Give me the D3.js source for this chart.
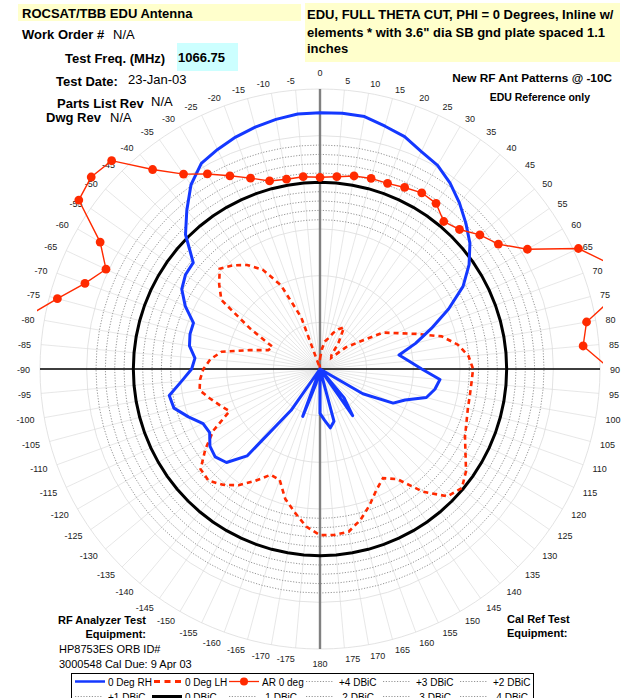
<!DOCTYPE html>
<html><head><meta charset="utf-8">
<script src="https://cdn.jsdelivr.net/npm/d3@7"></script>
<style>
html,body{margin:0;padding:0;background:#fff;}
svg{display:block;font-family:Arial,"Liberation Sans",sans-serif;}
</style></head><body>
<svg id="chart" width="639" height="698"></svg>
<script>
// Theta cut angles (degrees), clockwise from the top of the plot
const angleLabels = [
  "0","5","10","15","20","25","30","35","40","45","50","55","60","65","70","75","80","85","90",
  "95","100","105","110","115","120","125","130","135","140","145","150","155","160","165","170","175","180",
  "-175","-170","-165","-160","-155","-150","-145","-140","-135","-130","-125","-120","-115","-110","-105","-100","-95",
  "-90","-85","-80","-75","-70","-65","-60","-55","-50","-45","-40","-35","-30","-25","-20","-15","-10","-5"
];

// 0 Deg RH gain (dBiC)
const rhGain = [
  7.46, 7.5, 7.46, 6.93, 6.5, 5.7, 5.2, 4.3, 3.24, 2.1, 0.97, -0.5, -2.3, -4.8, -7.3, -9.4, -11.4, -10.4, -9.1,
  -7.1, -7.5, -8.2, -10.3, -11.35, -14.7, -20, -20, -20, -16, -13.9, -20, -20, -20, -14.2, -13.6, -14.5, -15.25,
  -20, -20, -18.4, -14.6, -20, -20, -14.6, -7.84, -5.83, -5.34, -5.6, -6.35, -6.18, -5.0, -3.8, -3.6, -5.12,
  -6.25, -6.55, -5.8, -5.58, -5.57, -4.07, -2.9, -2.4, -2.27, 0.38, 2.2, 4.1, 5.43, 5.96, 6.44, 6.83, 7.16, 7.42
];

// 0 Deg LH gain (dBiC)
const lhGain = [
  -18.9, -17.9, -17.0, -16.6, -15.9, -15.3, -14.85, -16.5, -18.1, -18.3, -16.4, -15.0, -12.2, -10.9, -9.0, -6.5, -5.0, -4.03, -3.6,
  -3.7, -3.7, -3.6, -3.3, -2.86, -2.0, -0.9, -0.16, -0.7, -2.85, -5.6, -6.5, -5.7, -4.47, -3.26, -2.3, -2.16, -2.2,
  -3.05, -4.4, -5.6, -7.36, -7.5, -6.16, -4.8, -3.8, -3.1, -3.3, -5.0, -6.8, -9.3, -8.6, -7.8, -6.9, -7.1,
  -7.5, -8.2, -9.3, -12.2, -14.1, -14.4, -11.4, -7.1, -5.9, -4.8, -5.5, -6.4, -7.7, -10.1, -14.1, -19.7, -20, -19.5
];

// Axial ratio, 0 deg (dB)
const axialRatio = [
  0.54, 0.68, 1.0, 1.15, 1.17, 1.46, 1.8, 1.67, 0.63, 1.14, 2.36, 3.33, 5.66, 10.55, 13.0, 13.8, 9.0, 8.3, 11.1,
  21.4, 26.8, 29.5, 31.2, 33.0, 34.1, 32.6, 30.8, 29.9, 31.5, 33.8, 35.2, 34.0, 31.7, 29.2, 28.1, 27.6, 28.3,
  29.0, 30.6, 32.4, 34.5, 35.1, 33.9, 31.8, 30.2, 29.4, 30.7, 32.2, 33.5, 31.9, 29.8, 27.3, 24.6, 21.7,
  18.9, 15.8, 12.0, 9.13, 6.8, 5.3, 7.2, 11.55, 12.0, 11.57, 7.9, 5.49, 4.13, 2.84, 1.76, 0.86, 0.65, 0.68
];

// Reference rings (dBiC) and radial gridline values
const refLevels = [4, 3, 2, 1, -1, -2, -3, -4];
const gridLevels = [-15, -10, -5, 0, 5, 10];
const radialDomain = [-20, 10];

const legendItems = [
  {label: "0 Deg RH", kind: "rh"}, {label: "0 Deg LH", kind: "lh"}, {label: "AR 0 deg", kind: "ar"},
  {label: "+4 DBiC", kind: "ref"}, {label: "+3 DBiC", kind: "ref"}, {label: "+2 DBiC", kind: "ref"},
  {label: "+1 DBiC", kind: "ref"}, {label: "0 DBiC", kind: "zero"}, {label: "-1 DBiC", kind: "ref"},
  {label: "-2 DBiC", kind: "ref"}, {label: "-3 DBiC", kind: "ref"}, {label: "-4 DBiC", kind: "ref"}
];

const svg = d3.select("#chart");
const cx = 320, cy = 369, R = 280;
const BLUE = "#1438ff", RED = "#ff2a00";

const r = d3.scaleLinear().domain(radialDomain).range([0, R]).clamp(false);
const a = d3.scaleLinear().domain([0, angleLabels.length]).range([0, 2 * Math.PI]);

// ---------- header texts ----------
const hdr = svg.append("g");
hdr.append("rect").attr("x", 18).attr("y", 4).attr("width", 283).attr("height", 17).attr("fill", "#ffffcc");
hdr.append("rect").attr("x", 305).attr("y", 3).attr("width", 315).attr("height", 59).attr("fill", "#ffffcc");
hdr.append("rect").attr("x", 177).attr("y", 43).attr("width", 61).attr("height", 28).attr("fill", "#ccffff");

function txt(x, y, s, size, bold, anchor) {
  return svg.append("text").attr("x", x).attr("y", y).text(s)
    .attr("font-size", size).attr("font-weight", bold ? "bold" : "normal")
    .attr("text-anchor", anchor || "start").attr("fill", "#000");
}
txt(22, 17.5, "ROCSAT/TBB EDU Antenna", 13, true);
txt(22, 38.5, "Work Order #", 13, true);
txt(113, 38.5, "N/A", 13, false);
txt(65, 63, "Test Freq. (MHz)", 13, true);
txt(178, 62, "1066.75", 13, true);
txt(56, 86, "Test Date:", 13, true);
txt(128, 83.5, "23-Jan-03", 13, false);
txt(57, 107.5, "Parts List Rev", 13, true);
txt(151, 105.5, "N/A", 13, false);
txt(46, 122, "Dwg Rev", 13, true);
txt(110, 121.5, "N/A", 13, false);

txt(307, 19, "EDU, FULL THETA CUT, PHI = 0 Degrees, Inline w/", 13, true);
txt(307, 37, "elements * with 3.6\" dia SB gnd plate spaced 1.1", 13, true);
txt(307, 52.5, "inches", 13, true);
txt(612, 82, "New RF Ant Patterns @ -10C", 11.8, true, "end");
txt(590, 101, "EDU Reference only", 10.5, true, "end");

txt(146, 624, "RF Analyzer Test", 11, true, "end");
txt(146, 638, "Equipment:", 11, true, "end");
txt(59, 653, "HP8753ES ORB ID#", 11, false);
txt(59, 668, "3000548 Cal Due: 9 Apr 03", 11, false);
txt(507, 622.5, "Cal Ref Test", 11, true);
txt(507, 637, "Equipment:", 11, true);

// ---------- polar grid ----------
const plot = svg.append("g").attr("transform", `translate(${cx},${cy})`);

plot.append("g").selectAll("line").data(angleLabels).join("line")
  .attr("x1", 0).attr("y1", 0)
  .attr("x2", (d, i) => R * Math.sin(a(i)))
  .attr("y2", (d, i) => -R * Math.cos(a(i)))
  .attr("stroke", "#dcdcdc").attr("stroke-width", 0.7);

plot.append("g").selectAll("circle").data(gridLevels).join("circle")
  .attr("r", d => r(d)).attr("fill", "none")
  .attr("stroke", "#dcdcdc").attr("stroke-width", 0.8);

const ringLine = d3.lineRadial()
  .angle((d, i) => a(i))
  .radius(d => r(d))
  .curve(d3.curveLinearClosed);

plot.append("g").selectAll("path").data(refLevels).join("path")
  .attr("d", v => ringLine(angleLabels.map(() => v)))
  .attr("fill", "none").attr("stroke", "#7a7a7a").attr("stroke-width", 0.8)
  .attr("stroke-dasharray", "1.2,1.6");

// crosshair axes
plot.append("line").attr("x1", -R).attr("x2", R).attr("y1", 0).attr("y2", 0)
  .attr("stroke", "#000").attr("stroke-width", 1.3);
plot.append("line").attr("x1", 0).attr("x2", 0).attr("y1", -R).attr("y2", R)
  .attr("stroke", "#808080").attr("stroke-width", 2.4);

// 0 dBiC reference
plot.append("path").attr("d", ringLine(angleLabels.map(() => 0)))
  .attr("fill", "none").attr("stroke", "#000").attr("stroke-width", 3);

// ---------- angle labels ----------
const LR = 290;
plot.append("g").selectAll("text").data(angleLabels).join("text")
  .text(d => d)
  .attr("font-size", 9).attr("fill", "#222")
  .each(function(d, i) {
    const ang = a(i), s = Math.sin(ang), c = Math.cos(ang);
    let x = LR * s, y = -LR * c, anchor;
    if (Math.abs(s) < 1e-6) {
      anchor = "middle";
      y = c > 0 ? y - 3.5 : y + 7.5;
    } else {
      anchor = s > 0 ? "start" : "end";
      y = y + 4;
    }
    d3.select(this).attr("x", x).attr("y", y).attr("text-anchor", anchor);
  });

// ---------- data series ----------
const seriesLine = d3.lineRadial()
  .angle((d, i) => a(i))
  .radius(d => r(d))
  .curve(d3.curveLinearClosed);

plot.append("path").attr("d", seriesLine(lhGain))
  .attr("fill", "none").attr("stroke", RED).attr("stroke-width", 2.6)
  .attr("stroke-dasharray", "5,4");

plot.append("path").attr("d", seriesLine(rhGain))
  .attr("fill", "none").attr("stroke", BLUE).attr("stroke-width", 3)
  .attr("stroke-linejoin", "round");

// axial ratio runs past the outer ring, so it is clipped to the plot area
svg.append("clipPath").attr("id", "plotArea").append("rect")
  .attr("x", 37 - cx).attr("y", 80 - cy).attr("width", 566).attr("height", 580);
const arG = plot.append("g").attr("clip-path", "url(#plotArea)");
arG.append("path").attr("d", seriesLine(axialRatio))
  .attr("fill", "none").attr("stroke", RED).attr("stroke-width", 1.4);
arG.selectAll("circle").data(axialRatio).join("circle")
  .attr("cx", (d, i) => r(d) * Math.sin(a(i)))
  .attr("cy", (d, i) => -r(d) * Math.cos(a(i)))
  .attr("r", 4.4).attr("fill", RED);

// ---------- legend ----------
const lg = svg.append("g");
lg.append("rect").attr("x", 71.5).attr("y", 673.5).attr("width", 462).attr("height", 40)
  .attr("fill", "#fff").attr("stroke", "#000").attr("stroke-width", 1);
legendItems.forEach((it, k) => {
  const col = k % 6, row = Math.floor(k / 6);
  const x0 = 75 + col * 77, yb = 685.5 + row * 15, ly = yb - 4;
  const g = lg.append("g");
  if (it.kind === "rh") {
    g.append("line").attr("x1", x0).attr("x2", x0 + 30).attr("y1", ly).attr("y2", ly)
      .attr("stroke", BLUE).attr("stroke-width", 2.5);
  } else if (it.kind === "lh") {
    g.append("line").attr("x1", x0 + 2).attr("x2", x0 + 30).attr("y1", ly).attr("y2", ly)
      .attr("stroke", RED).attr("stroke-width", 2.8).attr("stroke-dasharray", "6,4.5");
  } else if (it.kind === "ar") {
    g.append("line").attr("x1", x0).attr("x2", x0 + 30).attr("y1", ly).attr("y2", ly)
      .attr("stroke", RED).attr("stroke-width", 1.3);
    g.append("circle").attr("cx", x0 + 15).attr("cy", ly).attr("r", 4).attr("fill", RED);
  } else if (it.kind === "zero") {
    g.append("line").attr("x1", x0).attr("x2", x0 + 30).attr("y1", ly).attr("y2", ly)
      .attr("stroke", "#000").attr("stroke-width", 3);
  } else {
    g.append("line").attr("x1", x0).attr("x2", x0 + 28).attr("y1", ly).attr("y2", ly)
      .attr("stroke", "#7a7a7a").attr("stroke-width", 0.8).attr("stroke-dasharray", "1.2,1.6");
  }
  g.append("text").attr("x", x0 + 33).attr("y", yb).text(it.label)
    .attr("font-size", 10).attr("fill", "#000");
});
</script>
</body></html>
